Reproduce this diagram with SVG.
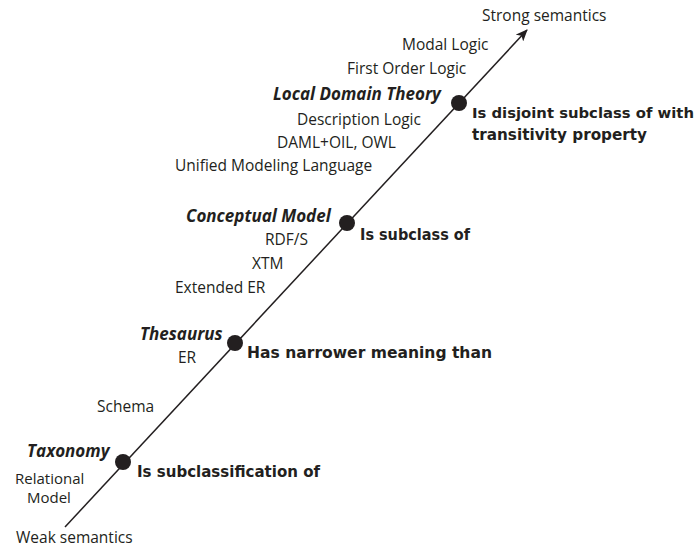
<svg xmlns="http://www.w3.org/2000/svg" width="700" height="550" viewBox="0 0 700 550">
  <style>
    .lbl { font-family: "Open Sans", "Liberation Sans", sans-serif; font-size: 15.5px; fill: #231f20; }
    .kind { font-family: "Open Sans", "Liberation Sans", sans-serif; font-size: 17px; font-weight: bold; font-style: italic; fill: #231f20; }
    .rel { font-family: "DejaVu Sans", "Liberation Sans", sans-serif; font-size: 15.5px; font-weight: bold; fill: #231f20; }
    .rel.tight { font-size: 14.5px; }
    .lbl.pair { font-size: 15px; }
    .dot { fill: #231f20; }
    .axis { stroke: #231f20; stroke-width: 1.5; fill: none; }
  </style>
  <defs>
    <marker id="arrow" viewBox="0 0 12 10" refX="11" refY="5" markerWidth="12" markerHeight="10" markerUnits="userSpaceOnUse" orient="auto">
      <path d="M0,0 L12,5 L0,10 L3,5 Z" fill="#231f20"/>
    </marker>
  </defs>
  <rect width="700" height="550" fill="#ffffff"/>

  <!-- semantic axis -->
  <g id="connectors">
    <line class="axis" x1="65" y1="527" x2="527" y2="30" marker-end="url(#arrow)"/>
  </g>

  <!-- axis ends -->
  <g id="strong">
    <text class="lbl" x="482" y="21">Strong semantics</text>
  </g>
  <g id="weak">
    <text class="lbl" x="16" y="543">Weak semantics</text>
  </g>

  <!-- Taxonomy -->
  <g id="taxonomy">
    <circle class="dot" cx="123" cy="462" r="8"/>
    <text class="kind" x="27" y="457">Taxonomy</text>
    <text class="rel" x="137" y="477" textLength="183" lengthAdjust="spacingAndGlyphs">Is subclassification of</text>
    <text class="lbl pair" x="15" y="484">Relational<tspan x="27" y="503">Model</tspan></text>
    <text class="lbl" x="97" y="412">Schema</text>
  </g>

  <!-- Thesaurus -->
  <g id="thesaurus">
    <circle class="dot" cx="235" cy="343" r="8"/>
    <text class="kind" x="140" y="340">Thesaurus</text>
    <text class="rel" x="247" y="358" textLength="245" lengthAdjust="spacingAndGlyphs">Has narrower meaning than</text>
    <text class="lbl" x="178" y="363">ER</text>
  </g>

  <!-- Conceptual Model -->
  <g id="conceptual-model">
    <circle class="dot" cx="347" cy="223" r="8"/>
    <text class="kind" x="186" y="222">Conceptual Model</text>
    <text class="rel" x="360" y="240" textLength="110" lengthAdjust="spacingAndGlyphs">Is subclass of</text>
    <text class="lbl" x="265" y="245">RDF/S</text>
    <text class="lbl" x="252" y="269">XTM</text>
    <text class="lbl" x="175" y="293">Extended ER</text>
  </g>

  <!-- Local Domain Theory -->
  <g id="local-domain-theory">
    <circle class="dot" cx="459" cy="103" r="8"/>
    <text class="kind" x="273" y="100">Local Domain Theory</text>
    <text class="rel tight" x="472" y="118" textLength="222" lengthAdjust="spacingAndGlyphs">Is disjoint subclass of with</text>
    <text class="rel" x="472" y="140" textLength="175" lengthAdjust="spacingAndGlyphs">transitivity property</text>
    <text class="lbl" x="297" y="125">Description Logic</text>
    <text class="lbl" x="277" y="148">DAML+OIL, OWL</text>
    <text class="lbl" x="175" y="171">Unified Modeling Language</text>
    <text class="lbl" x="347" y="74">First Order Logic</text>
    <text class="lbl" x="402" y="50">Modal Logic</text>
  </g>
</svg>
